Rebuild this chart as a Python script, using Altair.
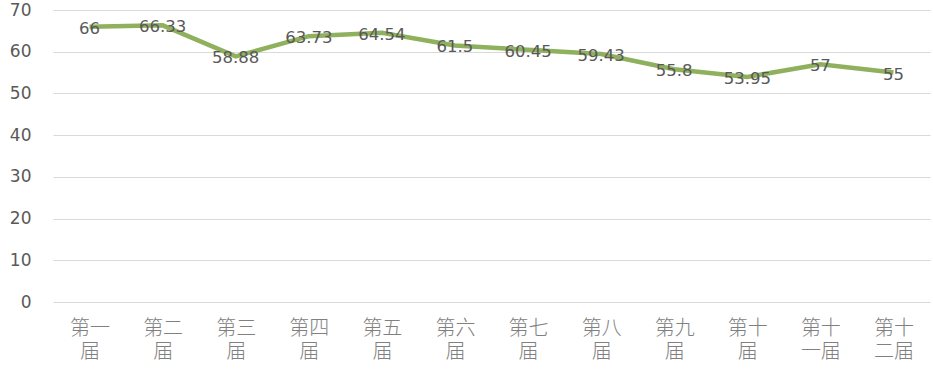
import altair as alt
import pandas as pd

categories = ["第一届", "第二届", "第三届", "第四届", "第五届", "第六届",
              "第七届", "第八届", "第九届", "第十届", "第十一届", "第十二届"]
values = [66, 66.33, 58.88, 63.73, 64.54, 61.5, 60.45, 59.43, 55.8, 53.95, 57, 55]
labels = ["66", "66.33", "58.88", "63.73", "64.54", "61.5", "60.45", "59.43",
          "55.8", "53.95", "57", "55"]

df = pd.DataFrame({"cat": categories, "val": values, "lab": labels})

x = alt.X("cat:N", sort=categories, title=None,
          scale=alt.Scale(paddingOuter=0.5),
          axis=alt.Axis(labelAngle=0, ticks=False, domain=False, grid=False,
                        labelFont="Noto Sans CJK SC", labelFontSize=20,
                        labelColor="#808080", labelPadding=16, labelLineHeight=23,
                        labelFontWeight=300,
                        labelExpr="[substring(datum.label,0,2), substring(datum.label,2)]"))
y = alt.Y("val:Q", title=None,
          scale=alt.Scale(domain=[0, 70], nice=False),
          axis=alt.Axis(values=[0, 10, 20, 30, 40, 50, 60, 70], ticks=False, domain=False,
                        gridColor="#d9d9d9", gridWidth=1.2,
                        labelFont="DejaVu Sans", labelFontSize=17, labelColor="#595959",
                        labelPadding=22))

line = alt.Chart(df).mark_line(color="#8fb05c", strokeWidth=4.5).encode(x=x, y=y)
text = alt.Chart(df).mark_text(font="DejaVu Sans", fontSize=16.5, color="#595959",
                               baseline="middle", dy=2).encode(x=x, y=y, text="lab:N")

chart = (line + text).properties(
    width=877, height=292,
    padding={"left": 53, "top": 10, "right": 3, "bottom": 70},
    autosize=alt.AutoSizeParams(type="none"),
).configure_view(stroke=None)

chart.save("out.html", embed_options={"renderer": "svg", "actions": False})
